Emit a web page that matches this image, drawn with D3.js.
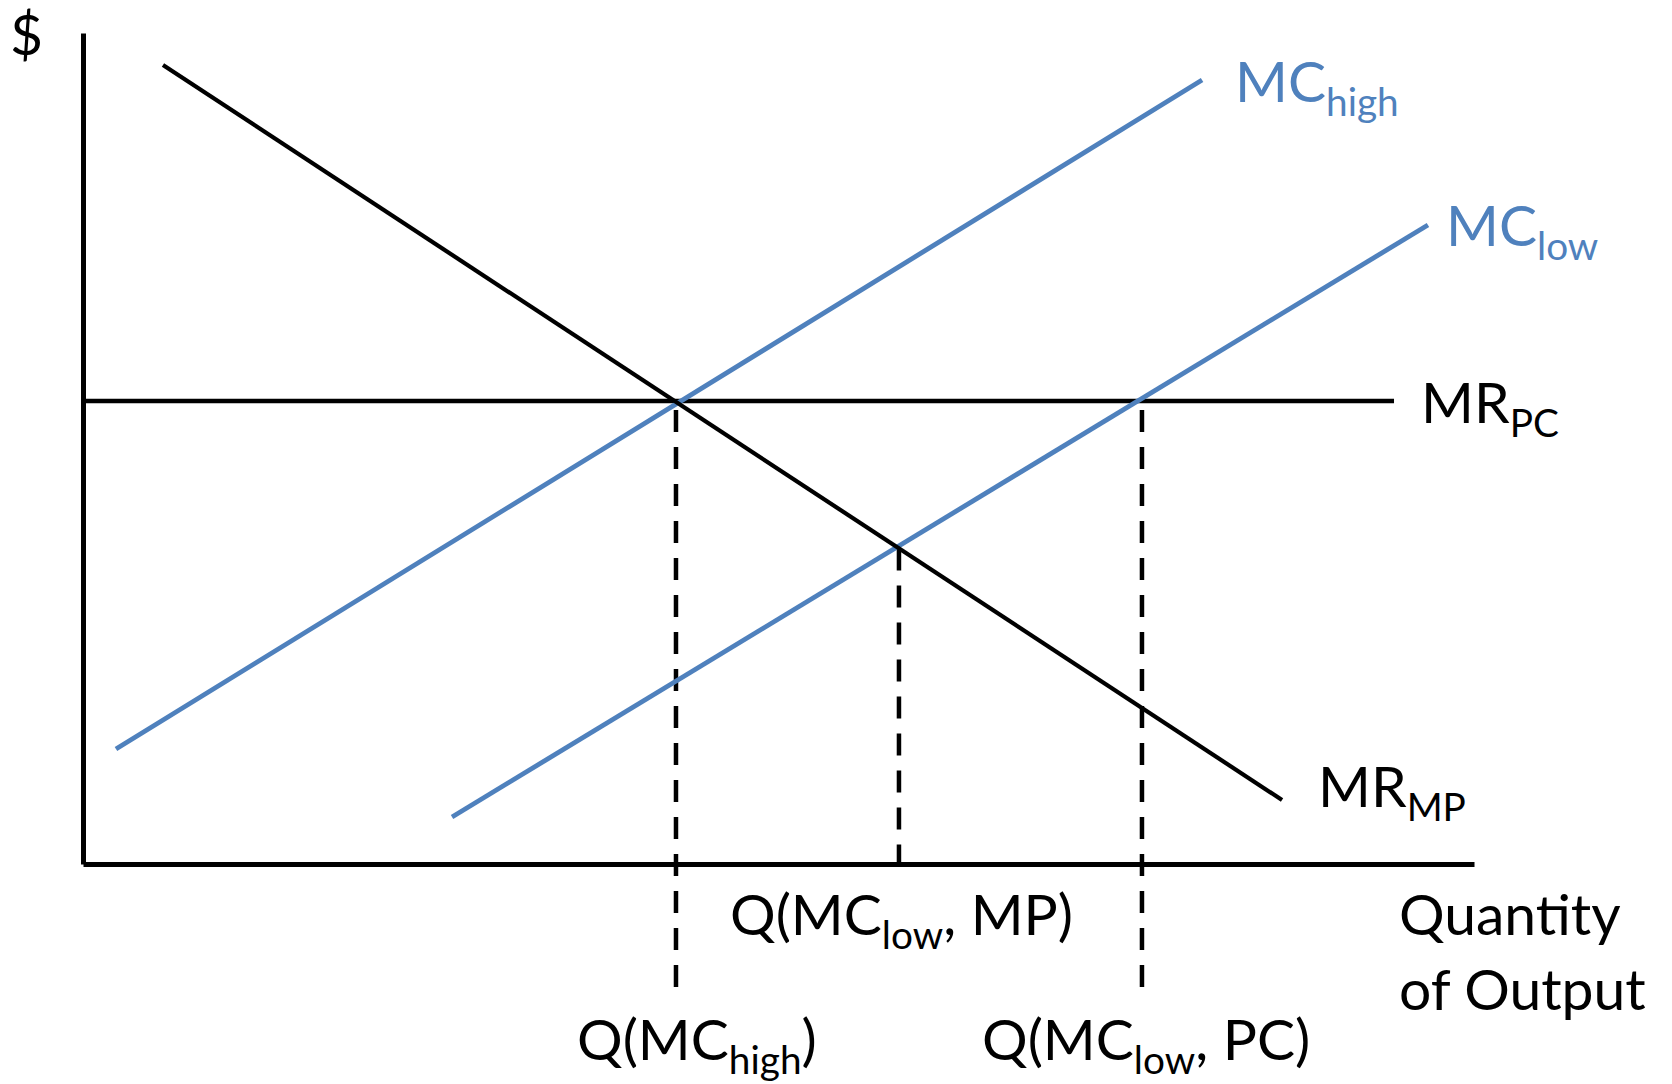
<!DOCTYPE html>
<html>
<head>
<meta charset="utf-8">
<script src="https://cdn.jsdelivr.net/npm/d3@7"></script>
<style>
  html, body { margin: 0; padding: 0; background: #fff; }
  svg { display: block; }
</style>
</head>
<body>
<svg id="chart" width="1672" height="1084"></svg>
<script>
// ---- Data (quantity 0..100, price 0..100) ----
const mrMP   = [[5.75, 96.15], [86.2, 7.7]];     // monopoly marginal revenue
const mcHigh = [[2.37, 13.84], [80.45, 94.34]];   // high marginal cost
const mcLow  = [[26.53, 5.66], [96.69, 76.9]];    // low marginal cost
const mrPC   = [[0, 55.72], [94.25, 55.72]];      // perfect-competition MR (price)
const qMarks = [42.63, 58.66, 76.13];             // quantities marked with dashed guides
const qTops  = [55.72, 37.98, 55.72];
const qBottoms = [-15.4, 0, -15.4];

// label texts: [main, subscript, trailing]
const labelTexts = {
  dollar:  ["$", "", ""],
  mcHigh:  ["MC", "high", ""],
  mcLow:   ["MC", "low", ""],
  mrPC:    ["MR", "PC", ""],
  mrMP:    ["MR", "MP", ""],
  qLowMP:  ["Q(MC", "low", ", MP)"],
  qHigh:   ["Q(MC", "high", ")"],
  qLowPC:  ["Q(MC", "low", ", PC)"],
  axisX1:  ["Quantity", "", ""],
  axisX2:  ["of Output", "", ""]
};

// ---- Layout ----
const svg = d3.select("#chart");
const x = d3.scaleLinear().domain([0, 100]).range([83, 1474]);
const y = d3.scaleLinear().domain([0, 100]).range([864, 33]);
const BLUE = "#4F81BD";
const FONT = "Lato, 'Open Sans', sans-serif";
const FS = 57;

// axes (domain lines only)
svg.append("g").attr("transform", `translate(0,${y(0)})`)
  .call(d3.axisBottom(x).tickValues([]).tickSizeOuter(0))
  .call(g => g.select(".domain").attr("stroke", "#000").attr("stroke-width", 5));
svg.append("g").attr("transform", `translate(${x(0)},0)`)
  .call(d3.axisLeft(y).tickValues([]).tickSizeOuter(0))
  .call(g => g.select(".domain").attr("stroke", "#000").attr("stroke-width", 5));

const line = d3.line().x(d => x(d[0])).y(d => y(d[1]));

// dashed guides
qMarks.forEach((q, i) => {
  svg.append("path")
    .attr("d", line([[q, qTops[i]], [q, qBottoms[i]]]))
    .attr("stroke", "#000").attr("stroke-width", 4.5).attr("fill", "none")
    .attr("stroke-dasharray", "22,15")
    .attr("stroke-dashoffset", i === 1 ? 0 : 28);
});

// curves
svg.append("path").attr("d", line(mrPC)).attr("stroke", "#000").attr("stroke-width", 4.5).attr("fill", "none");
svg.append("path").attr("d", line(mcHigh)).attr("stroke", BLUE).attr("stroke-width", 4.8).attr("fill", "none");
svg.append("path").attr("d", line(mcLow)).attr("stroke", BLUE).attr("stroke-width", 4.8).attr("fill", "none");
svg.append("path").attr("d", line(mrMP)).attr("stroke", "#000").attr("stroke-width", 4.2).attr("fill", "none");

// labels: position = [left x, baseline y]
const labelPos = {
  dollar: [10, 55, "#000"],
  mcHigh: [1235, 102, BLUE],
  mcLow:  [1446, 246, BLUE],
  mrPC:   [1421, 423, "#000"],
  mrMP:   [1318, 807, "#000"],
  qLowMP: [730, 935, "#000"],
  qHigh:  [577, 1060, "#000"],
  qLowPC: [982, 1060, "#000"],
  axisX1: [1399, 935, "#000"],
  axisX2: [1399, 1010, "#000"]
};
const SUB = 0.68, SUBDY = 14;
Object.keys(labelTexts).forEach(k => {
  const [main, sub, tail] = labelTexts[k];
  const [lx, ly, col] = labelPos[k];
  const t = svg.append("text").attr("x", lx).attr("y", ly)
    .attr("font-family", FONT).attr("font-size", FS).attr("fill", col);
  t.append("tspan").text(main);
  if (sub) t.append("tspan").attr("font-size", FS * SUB).attr("dy", SUBDY).text(sub);
  if (tail) t.append("tspan").attr("dy", -SUBDY).text(tail);
});
</script>
</body>
</html>
